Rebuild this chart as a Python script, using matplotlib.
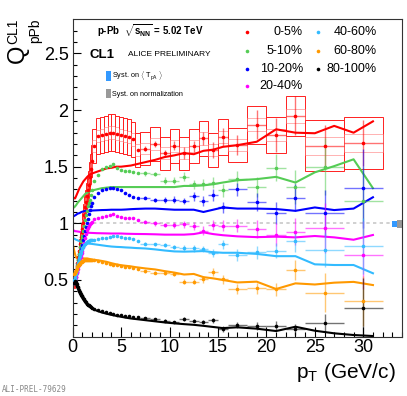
import numpy as np
import matplotlib.pyplot as plt
from matplotlib.patches import Rectangle

plt.rcParams['font.family'] = ['Liberation Sans', 'DejaVu Sans']
plt.rcParams['mathtext.fontset'] = 'custom'
plt.rcParams['mathtext.rm'] = 'Liberation Sans'
plt.rcParams['mathtext.it'] = 'Liberation Sans:italic'
plt.rcParams['mathtext.bf'] = 'Liberation Sans:bold'

W, H = 407, 396

# pT bin edges of the measured points (GeV/c)
edges = [0.15, 0.2, 0.25, 0.3, 0.35, 0.4, 0.45, 0.5, 0.55, 0.6, 0.65, 0.7, 0.75, 0.8, 0.85, 0.9, 0.95, 1.0,
         1.1, 1.2, 1.3, 1.4, 1.5, 1.6, 1.7, 1.8, 1.9, 2.0,
         2.4, 2.8, 3.2, 3.6, 4.0, 4.4, 4.8, 5.2, 5.6, 6.0, 6.4,
         7.0, 8.0, 9.0, 10.0, 11.0, 12.0, 13.0, 14.0, 15.0, 16.0,
         18.0, 20.0, 22.0, 24.0, 28.0, 32.0]

labels = ['0-5%', '5-10%', '10-20%', '20-40%', '40-60%', '60-80%', '80-100%']
colors = ['#ff0000', '#55cc55', '#0000ff', '#ff00ff', '#33bbff', '#ff9900', '#000000']

# Q_pPb data points
q_0_5 = [0.47, 0.50, 0.53, 0.56, 0.59, 0.62, 0.65, 0.68, 0.70, 0.73, 0.76, 0.79, 0.82, 0.85, 0.88, 0.92, 0.95,
         1.00, 1.07, 1.14, 1.19, 1.24, 1.29, 1.34, 1.41, 1.48, 1.55,
         1.68, 1.77, 1.78, 1.79, 1.80, 1.80, 1.79, 1.78, 1.77, 1.76, 1.74,
         1.65,
         1.66, 1.70, 1.62, 1.685, 1.62, 1.68, 1.75, 1.65, 1.76,
         1.69, 1.87, 1.78, 1.95,
         1.685, 1.71]
q_5_10 = [0.47, 0.49, 0.52, 0.55, 0.57, 0.60, 0.63, 0.65, 0.68, 0.71, 0.73, 0.76, 0.79, 0.81, 0.84, 0.87, 0.89,
          0.93, 0.98, 1.03, 1.07, 1.11, 1.15, 1.18, 1.21, 1.25, 1.29,
          1.37, 1.43, 1.48, 1.50, 1.51, 1.52, 1.49, 1.475, 1.465, 1.46, 1.45,
          1.44,
          1.44, 1.435, 1.375, 1.375, 1.41, 1.345, 1.345, 1.36, 1.29,
          1.39, 1.32, 1.49, 1.32,
          1.50, 1.20]
q_10_20 = [0.47, 0.49, 0.51, 0.53, 0.55, 0.57, 0.60, 0.62, 0.64, 0.66, 0.68, 0.70, 0.72, 0.74, 0.77, 0.79, 0.81,
           0.85, 0.89, 0.93, 0.97, 1.00, 1.04, 1.08, 1.12, 1.15, 1.18,
           1.23, 1.27, 1.29, 1.305, 1.315, 1.31, 1.30, 1.29, 1.27, 1.25, 1.235,
           1.226,
           1.226, 1.205, 1.205, 1.21, 1.197, 1.24, 1.20, 1.25, 1.14,
           1.30, 1.19, 1.09, 1.226,
           1.09, 1.31]
q_20_40 = [0.48, 0.49, 0.51, 0.53, 0.55, 0.56, 0.58, 0.60, 0.62, 0.63, 0.65, 0.67, 0.69, 0.70, 0.72, 0.74, 0.76,
           0.79, 0.83, 0.87, 0.91, 0.94, 0.96, 0.98, 0.995, 1.005, 1.015,
           1.035, 1.05, 1.06, 1.068, 1.073, 1.08, 1.062, 1.056, 1.05, 1.047, 1.043,
           1.03,
           1.014, 1.0, 0.985, 0.985, 0.99, 0.975, 0.935, 0.985, 0.979,
           0.98, 0.95, 0.90, 0.926,
           0.956, 0.72]
q_40_60 = [0.50, 0.51, 0.53, 0.55, 0.57, 0.59, 0.61, 0.63, 0.65, 0.67, 0.69, 0.71, 0.725, 0.74, 0.755, 0.77, 0.78,
           0.795, 0.81, 0.82, 0.83, 0.838, 0.843, 0.847, 0.85, 0.852, 0.853,
           0.856, 0.862, 0.867, 0.873, 0.879, 0.886, 0.885, 0.877, 0.871, 0.868, 0.863,
           0.845,
           0.82, 0.815, 0.81, 0.79, 0.78, 0.78, 0.773, 0.74, 0.817,
           0.72, 0.744, 0.76, 0.84,
           0.764, 0.80]
q_60_80 = [0.55, 0.56, 0.57, 0.58, 0.59, 0.60, 0.61, 0.62, 0.63, 0.635, 0.64, 0.645, 0.65, 0.655, 0.66, 0.662, 0.665,
           0.67, 0.672, 0.675, 0.676, 0.677, 0.677, 0.677, 0.676, 0.676, 0.675,
           0.672, 0.665, 0.658, 0.65, 0.642, 0.636, 0.628, 0.622, 0.618, 0.614, 0.607,
           0.597,
           0.575, 0.565, 0.558, 0.553, 0.485, 0.485, 0.506, 0.573, 0.506,
           0.417, 0.426, 0.417, 0.588,
           0.388, 0.314]
q_80_100 = [0.47, 0.485, 0.49, 0.485, 0.475, 0.465, 0.45, 0.44, 0.43, 0.415, 0.405, 0.395, 0.385, 0.378, 0.37, 0.362, 0.355,
            0.345, 0.33, 0.315, 0.303, 0.292, 0.283, 0.275, 0.268, 0.262, 0.256,
            0.245, 0.232, 0.222, 0.213, 0.206, 0.2, 0.195, 0.19, 0.185, 0.178, 0.174,
            0.169,
            0.161, 0.153, 0.14, 0.13, 0.155, 0.14, 0.13, 0.143, 0.07,
            0.102, 0.094, 0.094, 0.064,
            0.117, 0.255]

# statistical errors, only for the bins from 7 GeV/c on (smaller ones hide under the markers)
err_0_5 = [0.02, 0.03, 0.03, 0.04, 0.05, 0.05, 0.06, 0.07, 0.08, 0.09, 0.13, 0.15, 0.17, 0.18, 0.2]
err_5_10 = [0.02, 0.02, 0.03, 0.03, 0.04, 0.04, 0.05, 0.05, 0.06, 0.07, 0.09, 0.12, 0.15, 0.25, 0.3]
err_10_20 = [0.015, 0.02, 0.025, 0.03, 0.03, 0.04, 0.045, 0.05, 0.05, 0.06, 0.08, 0.1, 0.12, 0.2, 0.35]
err_20_40 = [0.015, 0.02, 0.02, 0.025, 0.03, 0.035, 0.04, 0.045, 0.05, 0.06, 0.08, 0.1, 0.12, 0.22, 0.3]
err_40_60 = [0.015, 0.015, 0.02, 0.02, 0.025, 0.03, 0.03, 0.035, 0.04, 0.05, 0.06, 0.07, 0.09, 0.15, 0.25]
err_60_80 = [0.01, 0.015, 0.015, 0.02, 0.02, 0.025, 0.03, 0.035, 0.04, 0.045, 0.05, 0.06, 0.09, 0.17, 0.22]
err_80_100 = [0.008, 0.01, 0.012, 0.012, 0.015, 0.015, 0.018, 0.02, 0.025, 0.03, 0.035, 0.04, 0.05, 0.08, 0.26]

# relative systematic uncertainty of 0-5% (boxes)
sys_0_5 = [0.09] * 52 + [0.134, 0.135]

# curves
pt_line = [0.05, 0.15, 0.25, 0.35, 0.5, 0.7, 0.9, 1.1, 1.3, 1.5,
           1.75, 2.0, 2.5, 3.0, 3.5, 4.0, 4.5, 5.0, 5.5, 6.0,
           6.5, 7.5, 8.5, 9.5, 10.5, 11.5, 12.5, 13.5, 14.5, 15.5,
           17, 19, 21, 23, 25, 27, 29, 31]
line_0_5 = [1.23, 1.22, 1.22, 1.24, 1.27, 1.31, 1.34, 1.37, 1.39, 1.41,
            1.43, 1.44, 1.455, 1.47, 1.485, 1.49, 1.50, 1.50, 1.505, 1.51,
            1.52, 1.54, 1.56, 1.585, 1.60, 1.62, 1.61, 1.64, 1.65, 1.675,
            1.69, 1.72, 1.83, 1.80, 1.795, 1.86, 1.80, 1.90]
line_5_10 = [1.15, 1.14, 1.15, 1.16, 1.18, 1.20, 1.22, 1.24, 1.26, 1.27,
             1.28, 1.29, 1.30, 1.31, 1.315, 1.32, 1.32, 1.32, 1.32, 1.32,
             1.32, 1.32, 1.32, 1.32, 1.32, 1.33, 1.33, 1.335, 1.345, 1.36,
             1.38, 1.39, 1.41, 1.36, 1.45, 1.505, 1.565, 1.31]
line_10_20 = [1.06, 1.065, 1.07, 1.075, 1.085, 1.09, 1.10, 1.105, 1.11, 1.11,
              1.112, 1.113, 1.115, 1.117, 1.118, 1.12, 1.12, 1.12, 1.122, 1.125,
              1.127, 1.13, 1.13, 1.125, 1.12, 1.12, 1.12, 1.10, 1.12, 1.14,
              1.13, 1.13, 1.126, 1.11, 1.14, 1.117, 1.13, 1.23]
line_20_40 = [0.94, 0.935, 0.93, 0.93, 0.928, 0.925, 0.922, 0.92, 0.918, 0.917,
              0.916, 0.915, 0.913, 0.912, 0.911, 0.91, 0.91, 0.91, 0.908, 0.907,
              0.906, 0.905, 0.903, 0.90, 0.90, 0.90, 0.905, 0.92, 0.905, 0.895,
              0.885, 0.878, 0.882, 0.876, 0.888, 0.876, 0.855, 0.897]
line_40_60 = [0.87, 0.865, 0.86, 0.855, 0.85, 0.843, 0.837, 0.83, 0.826, 0.822,
              0.82, 0.818, 0.812, 0.806, 0.80, 0.795, 0.792, 0.79, 0.787, 0.785,
              0.782, 0.778, 0.77, 0.76, 0.752, 0.75, 0.752, 0.755, 0.745, 0.74,
              0.74, 0.73, 0.71, 0.71, 0.638, 0.632, 0.632, 0.559]
line_60_80 = [0.80, 0.76, 0.725, 0.70, 0.685, 0.685, 0.69, 0.69, 0.69, 0.69,
              0.685, 0.68, 0.675, 0.668, 0.66, 0.648, 0.638, 0.63, 0.625, 0.62,
              0.613, 0.602, 0.593, 0.578, 0.565, 0.548, 0.553, 0.525, 0.514, 0.50,
              0.478, 0.485, 0.42, 0.47, 0.46, 0.476, 0.483, 0.455]
line_80_100 = [0.50, 0.50, 0.485, 0.46, 0.43, 0.39, 0.355, 0.325, 0.30, 0.28,
               0.262, 0.248, 0.228, 0.213, 0.202, 0.192, 0.183, 0.175, 0.167, 0.16,
               0.155, 0.145, 0.135, 0.125, 0.117, 0.11, 0.104, 0.095, 0.085, 0.075,
               0.082, 0.07, 0.049, 0.087, 0.052, 0.029, 0.014, 0.005]

points = [q_0_5, q_5_10, q_10_20, q_20_40, q_40_60, q_60_80, q_80_100]
errors = [err_0_5, err_5_10, err_10_20, err_20_40, err_40_60, err_60_80, err_80_100]
curves = [line_0_5, line_5_10, line_10_20, line_20_40, line_40_60, line_60_80, line_80_100]

edges = np.array(edges)
pt = 0.5 * (edges[1:] + edges[:-1])
hw = 0.5 * (edges[1:] - edges[:-1])
hi = pt > 7.0


def fpos(x, y):
    return x / W, 1 - y / H


fig = plt.figure(figsize=(W / 100, H / 100), dpi=100)
ax = fig.add_axes([72.7 / W, 1 - 336.6 / H, (402 - 72.7) / W, (336.6 - 19.4) / H])

ax.axhline(1.0, color='#c8c8c8', lw=1.2, ls=(0, (2, 2)), zorder=0.5)

# 0-5% systematic boxes
q = np.array(q_0_5)
s = np.array(sys_0_5) * q
for i in range(len(pt)):
    ax.add_patch(Rectangle((edges[i], q[i] - s[i]), 2 * hw[i], 2 * s[i], fill=False,
                           ec='#ff2020', lw=0.7, zorder=1))
    ax.add_patch(Rectangle((edges[i], q[i] - 0.35 * s[i]), 2 * hw[i], 0.7 * s[i], fill=False,
                           ec='#ff8080', lw=0.7, alpha=0.6, zorder=1))

for c, qv, ev, lv in zip(colors, points, errors, curves):
    qv = np.array(qv)
    ax.plot(pt_line, lv, color=c, lw=1.5, zorder=2)
    ax.errorbar(pt[hi], qv[hi], xerr=hw[hi], yerr=ev, fmt='none', ecolor=c,
                elinewidth=1.0, alpha=0.55, capsize=0, zorder=3)
    ax.plot(pt, qv, 'o', color=c, ms=2.6, mew=0, zorder=4)

# global uncertainties at unity
ax.add_patch(Rectangle((32.92, 0.965), 0.52, 0.058, color='#3399ff', lw=0, zorder=2))
ax.add_patch(Rectangle((33.44, 0.962), 0.55, 0.066, color='#999999', lw=0, zorder=2))

ax.set_xlim(0, 34)
ax.set_ylim(0, 2.8)
ax.set_xticks([0, 5, 10, 15, 20, 25, 30])
ax.set_xticks(np.arange(0, 35, 1), minor=True)
ax.set_yticks([0.5, 1, 1.5, 2, 2.5])
ax.set_yticklabels(['0.5', '1', '1.5', '2', '2.5'])
ax.set_yticks(np.arange(0.1, 2.8, 0.1), minor=True)
ax.tick_params(axis='both', which='both', direction='in', top=False, right=False, width=0.8)
ax.tick_params(axis='x', which='major', length=7, pad=1.5, labelsize=13)
ax.tick_params(axis='x', which='minor', length=3.5)
ax.tick_params(axis='y', which='major', length=5.5, pad=3, labelsize=13)
ax.tick_params(axis='y', which='minor', length=3)
for sp in ax.spines.values():
    sp.set_linewidth(0.8)
    sp.set_color('#333333')

# axis titles
fig.text(*fpos(17.5, 54), 'Q', rotation=90, fontsize=17, ha='center', va='center')
fig.text(*fpos(13.5, 31), 'CL1', rotation=90, fontsize=10, ha='center', va='center')
fig.text(*fpos(35, 31), 'pPb', rotation=90, fontsize=10, ha='center', va='center')
fig.text(*fpos(396, 378), r'p$_{\rm T}$ (GeV/c)', fontsize=15, ha='right', va='baseline')

# header
fig.text(*fpos(96.7, 31), r'p-Pb  $\sqrt{\mathbf{s}_{\mathbf{NN}}}$ = 5.02 TeV', fontsize=7,
         fontweight='bold', ha='left', va='center')
fig.text(*fpos(90, 55), 'CL1', fontsize=9.5, fontweight='bold', ha='left', va='center')
fig.text(*fpos(128, 55), 'ALICE PRELIMINARY', fontsize=6, ha='left', va='center')

fig.patches.append(Rectangle(fpos(106, 80.7), 4.7 / W, 9.7 / H, transform=fig.transFigure,
                             color='#3399ff', lw=0))
fig.patches.append(Rectangle(fpos(106, 97.7), 4.7 / W, 9 / H, transform=fig.transFigure,
                             color='#999999', lw=0))
fig.text(*fpos(112, 75.5), r'Syst. on $\langle$ T$_{\rm pA}$ $\rangle$', fontsize=5.2, ha='left', va='center')
fig.text(*fpos(112, 94), 'Syst. on normalization', fontsize=5.2, ha='left', va='center')

# legend
leg_rows = [32.3, 51.3, 68.5, 85.7]
for i, (lab, c) in enumerate(zip(labels, colors)):
    col, row = divmod(i, 4)
    mx = 246.7 if col == 0 else 318.3
    tx = 303 if col == 0 else 377
    ax.plot(*fpos(mx, leg_rows[row]), 'o', color=c, ms=2.6, mew=0,
            transform=fig.transFigure, clip_on=False)
    fig.text(*fpos(tx, leg_rows[row]), lab, fontsize=9, ha='right', va='center')

fig.text(*fpos(2, 389), 'ALI-PREL-79629', fontsize=5.5, family='DejaVu Sans Mono',
         color='#888888', ha='left', va='center')

fig.savefig('out.png', dpi=100)
